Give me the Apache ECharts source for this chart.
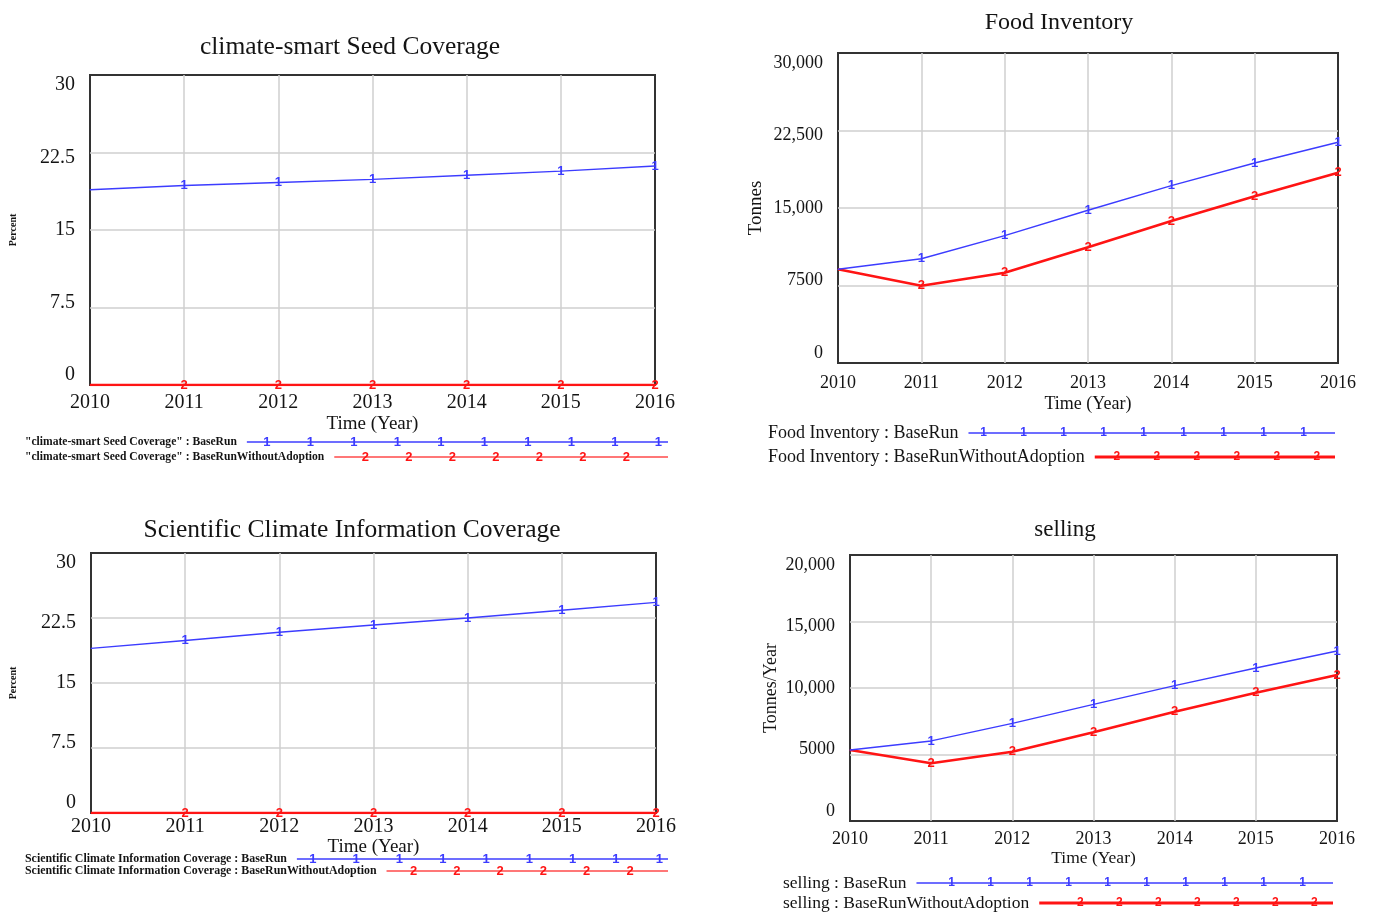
<!DOCTYPE html>
<html>
<head>
<meta charset="utf-8">
<title>Adoption scenarios 2010-2016</title>
<script src="https://cdn.jsdelivr.net/npm/echarts@6/dist/echarts.min.js"></script>
<style>
  html, body { margin: 0; padding: 0; background: #fff; }
  #main { width: 1374px; height: 912px; }
</style>
</head>
<body>
<div id="main"></div>
<script>
// Simulation output, one value per year
const years = ['2010', '2011', '2012', '2013', '2014', '2015', '2016'];

const seedBase = [18.9, 19.3, 19.6, 19.9, 20.3, 20.7, 21.2];
const seedNoAdopt = [0, 0, 0, 0, 0, 0, 0];

const inventoryBase = [9070, 10090, 12320, 14780, 17160, 19350, 21360];
const inventoryNoAdopt = [9070, 7480, 8740, 11200, 13740, 16130, 18420];

const infoBase = [19.0, 19.9, 20.85, 21.7, 22.5, 23.4, 24.3];
const infoNoAdopt = [0, 0, 0, 0, 0, 0, 0];

const sellingBase = [5340, 6020, 7340, 8770, 10180, 11500, 12780];
const sellingNoAdopt = [5340, 4340, 5210, 6670, 8220, 9650, 10980];

// Tick labels, bottom to top
const percentTicks = ['0', '7.5', '15', '22.5', '30'];
const inventoryTicks = ['0', '7500', '15,000', '22,500', '30,000'];
const sellingTicks = ['0', '5000', '10,000', '15,000', '20,000'];

const SERIF = '"Liberation Serif", "Times New Roman", serif';
const SANS = '"Liberation Sans", Arial, sans-serif';
const INK = '#141414';
const BLUE = '#3c3cff';
const RED = '#ff1414';

const panels = [
  { grid: { left: 90, top: 75, width: 565, height: 310 }, max: 30, interval: 7.5, ticks: percentTicks,
    font: 20, xMargin: 8, yName: 'Percent', yNameSize: 10, yNameGap: 72, xNameGap: 30, xNameSize: 19,
    base: seedBase, noAdopt: seedNoAdopt },
  { grid: { left: 838, top: 53, width: 500, height: 310 }, max: 30000, interval: 7500, ticks: inventoryTicks,
    font: 18, xMargin: 11, yName: 'Tonnes', yNameSize: 19, yNameGap: 72, xNameGap: 32, xNameSize: 18,
    base: inventoryBase, noAdopt: inventoryNoAdopt },
  { grid: { left: 91, top: 553, width: 565, height: 260 }, max: 30, interval: 7.5, ticks: percentTicks,
    font: 20, xMargin: 4, yName: 'Percent', yNameSize: 10, yNameGap: 73, xNameGap: 20, xNameSize: 19,
    base: infoBase, noAdopt: infoNoAdopt },
  { grid: { left: 850, top: 555, width: 487, height: 266 }, max: 20000, interval: 5000, ticks: sellingTicks,
    font: 18, xMargin: 9, yName: 'Tonnes/Year', yNameSize: 18, yNameGap: 70, xNameGap: 28, xNameSize: 17.5,
    base: sellingBase, noAdopt: sellingNoAdopt }
];

// Vensim-style label spread: end labels pulled inside the plot frame
const tickShift = [[0, 0, 20, 0], [0, 0, 10, 0], [0, 0, 0, 0], [10, 0, 0, 0], [20, 0, 0, 0]];

function richFor(size) {
  const rich = {};
  tickShift.forEach((pad, i) => {
    rich['p' + i] = { padding: pad, fontSize: size, fontFamily: SERIF, color: INK };
  });
  return rich;
}

const gridLine = { show: true, showMinLine: false, showMaxLine: false, lineStyle: { color: '#cfcfcf', width: 1.5 } };

const grids = [], xAxes = [], yAxes = [], series = [];
panels.forEach((p, i) => {
  grids.push(Object.assign({ show: true, borderColor: '#333', borderWidth: 2, backgroundColor: '#fff' }, p.grid));
  xAxes.push({
    type: 'category', gridIndex: i, data: years, boundaryGap: false,
    axisLine: { show: false }, axisTick: { show: false },
    axisLabel: { margin: p.xMargin, fontSize: p.font, fontFamily: SERIF, color: INK, interval: 0 },
    splitLine: gridLine,
    name: 'Time (Year)', nameLocation: 'middle', nameGap: p.xNameGap,
    nameTextStyle: { fontSize: p.xNameSize, fontFamily: SERIF, color: INK }
  });
  yAxes.push({
    type: 'value', gridIndex: i, min: 0, max: p.max, interval: p.interval,
    axisLine: { show: false }, axisTick: { show: false },
    axisLabel: {
      margin: 15, fontSize: p.font, fontFamily: SERIF, color: INK,
      formatter: (v, idx) => '{p' + idx + '|' + p.ticks[idx] + '}',
      rich: richFor(p.font)
    },
    splitLine: gridLine,
    name: p.yName, nameLocation: 'middle', nameGap: p.yNameGap, nameRotate: 90,
    nameTextStyle: { fontSize: p.yNameSize, fontFamily: SERIF, color: INK, fontWeight: p.yNameSize < 12 ? 'bold' : 'normal' }
  });
  const markLabel = (txt, color) => ({
    show: true, position: 'inside', color: color, fontSize: 13, fontWeight: 'bold', fontFamily: SANS,
    formatter: (d) => (d.dataIndex === 0 ? '' : txt)
  });
  series.push({
    type: 'line', xAxisIndex: i, yAxisIndex: i, data: p.noAdopt, z: 3,
    symbol: 'circle', symbolSize: 1, showSymbol: true,
    lineStyle: { color: RED, width: 2.6 }, itemStyle: { color: RED },
    label: markLabel('2', RED)
  });
  series.push({
    type: 'line', xAxisIndex: i, yAxisIndex: i, data: p.base, z: 4,
    symbol: 'circle', symbolSize: 1, showSymbol: true,
    lineStyle: { color: BLUE, width: 1.4 }, itemStyle: { color: BLUE },
    label: markLabel('1', BLUE)
  });
});

// Panel titles
const titles = [
  { text: 'climate-smart Seed Coverage', x: 350, y: 47, size: 25.5 },
  { text: 'Food Inventory', x: 1059, y: 23, size: 24 },
  { text: 'Scientific Climate Information Coverage', x: 352, y: 530, size: 25.5 },
  { text: 'selling', x: 1065, y: 530, size: 23 }
];

// Key rows under each panel: caption, then a run line carrying its run number
const keyRows = [
  { text: '"climate-smart Seed Coverage" : BaseRun', x: 25, y: 442, font: 'bold 11.6px ' + SERIF, end: 668, color: BLUE, width: 1.5, mark: '1', first: 20, step: 43.5, markSize: 13 },
  { text: '"climate-smart Seed Coverage" : BaseRunWithoutAdoption', x: 25, y: 457, font: 'bold 11.6px ' + SERIF, end: 668, color: '#ff4a4a', width: 1.6, mark: '2', first: 31, step: 43.5, markSize: 13 },
  { text: 'Food Inventory : BaseRun', x: 768, y: 433, font: '18px ' + SERIF, end: 1335, color: BLUE, width: 1.6, mark: '1', first: 15, step: 40, markSize: 12 },
  { text: 'Food Inventory : BaseRunWithoutAdoption', x: 768, y: 457, font: '18px ' + SERIF, end: 1335, color: RED, width: 3, mark: '2', first: 22, step: 40, markSize: 12 },
  { text: 'Scientific Climate Information Coverage : BaseRun', x: 25, y: 859, font: 'bold 11.9px ' + SERIF, end: 668, color: BLUE, width: 1.5, mark: '1', first: 16, step: 43.3, markSize: 13 },
  { text: 'Scientific Climate Information Coverage : BaseRunWithoutAdoption', x: 25, y: 871, font: 'bold 11.9px ' + SERIF, end: 668, color: '#ff4a4a', width: 1.6, mark: '2', first: 27, step: 43.3, markSize: 13 },
  { text: 'selling : BaseRun', x: 783, y: 883, font: '17.5px ' + SERIF, end: 1333, color: BLUE, width: 1.6, mark: '1', first: 35, step: 39, markSize: 12 },
  { text: 'selling : BaseRunWithoutAdoption', x: 783, y: 903, font: '17.5px ' + SERIF, end: 1333, color: RED, width: 3, mark: '2', first: 41, step: 39, markSize: 12 }
];

const measure = document.createElement('canvas').getContext('2d');
function textWidth(txt, font) { measure.font = font; return measure.measureText(txt).width; }

const graphics = [];
titles.forEach(t => {
  graphics.push({ type: 'text', x: t.x, y: t.y, z: 10,
    style: { text: t.text, font: t.size + 'px ' + SERIF, fill: INK, align: 'center', verticalAlign: 'middle' } });
});
keyRows.forEach(r => {
  graphics.push({ type: 'text', x: r.x, y: r.y, z: 10,
    style: { text: r.text, font: r.font, fill: INK, align: 'left', verticalAlign: 'middle' } });
  const start = r.x + textWidth(r.text, r.font) + 10;
  graphics.push({ type: 'line', z: 10, shape: { x1: start, y1: r.y, x2: r.end, y2: r.y },
    style: { stroke: r.color, lineWidth: r.width } });
  for (let mx = start + r.first; mx <= r.end - 4; mx += r.step) {
    graphics.push({ type: 'text', x: mx, y: r.y, z: 11,
      style: { text: r.mark, font: 'bold ' + r.markSize + 'px ' + SANS, fill: r.color === BLUE ? BLUE : RED, align: 'center', verticalAlign: 'middle' } });
  }
});

const chart = echarts.init(document.getElementById('main'), null, { renderer: 'canvas' });
chart.setOption({
  backgroundColor: '#fff',
  animation: false,
  grid: grids,
  xAxis: xAxes,
  yAxis: yAxes,
  series: series,
  graphic: graphics
});
</script>
</body>
</html>
